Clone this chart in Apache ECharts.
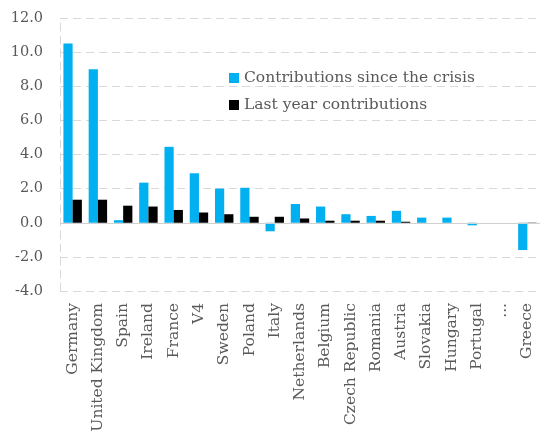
<!DOCTYPE html>
<html><head><meta charset="utf-8">
<script src="https://cdn.jsdelivr.net/npm/echarts@6/dist/echarts.min.js"></script>
<style>html,body{margin:0;padding:0;background:#fff}#c{width:540px;height:436px}</style>
</head><body><div id="c"></div>
<script>
const categories = ["Germany","United Kingdom","Spain","Ireland","France","V4","Sweden","Poland","Italy","Netherlands","Belgium","Czech Republic","Romania","Austria","Slovakia","Hungary","Portugal","...","Greece"];
const sinceCrisis = [10.5, 9.0, 0.15, 2.35, 4.45, 2.9, 2.0, 2.05, -0.5, 1.1, 0.95, 0.5, 0.4, 0.7, 0.3, 0.3, -0.15, null, -1.6];
const lastYear = [1.35, 1.35, 1.0, 0.95, 0.75, 0.6, 0.5, 0.35, 0.35, 0.25, 0.12, 0.12, 0.12, 0.06, 0, 0, 0, null, -0.05];
const FONT = "'DejaVu Serif', serif";
const chart = echarts.init(document.getElementById('c'), null, {renderer:'canvas'});
chart.setOption({
  animation:false,
  textStyle:{fontFamily:FONT},
  grid:{left:60,right:-4,top:18,bottom:145,containLabel:false},
  legend:{
    orient:'vertical', left:224, top:65, itemWidth:10, itemHeight:10, itemGap:11, icon:'rect',
    textStyle:{fontFamily:FONT,fontSize:15.5,color:'#595959'},
    data:['Contributions since the crisis','Last year contributions']
  },
  xAxis:{
    type:'category', data:categories,
    axisLine:{show:false}, axisTick:{show:false},
    axisLabel:{rotate:90, interval:0, fontFamily:FONT, fontSize:15.5, color:'#595959', margin:12}
  },
  yAxis:{
    type:'value', min:-4, max:12, interval:2,
    axisLine:{show:true, lineStyle:{color:'#d9d9d9', type:[8,5]}},
    axisTick:{show:false},
    splitLine:{lineStyle:{color:'#d9d9d9', type:[8,5]}},
    axisLabel:{formatter:v=>v.toFixed(1), fontFamily:FONT, fontSize:14.5, color:'#595959', margin:17}
  },
  series:[
    {name:'Contributions since the crisis', type:'bar', data:sinceCrisis, barWidth:'36.5%', barGap:'0%',
     itemStyle:{color:'#00B0F0'},
     markLine:{silent:true, symbol:'none', label:{show:false}, lineStyle:{color:'#d0d0d0', type:'solid', width:1},
       data:[{yAxis:0}]}},
    {name:'Last year contributions', type:'bar', data:lastYear, barWidth:'36.5%', barGap:'0%',
     itemStyle:{color:'#000000'}}
  ]
});
</script></body></html>
